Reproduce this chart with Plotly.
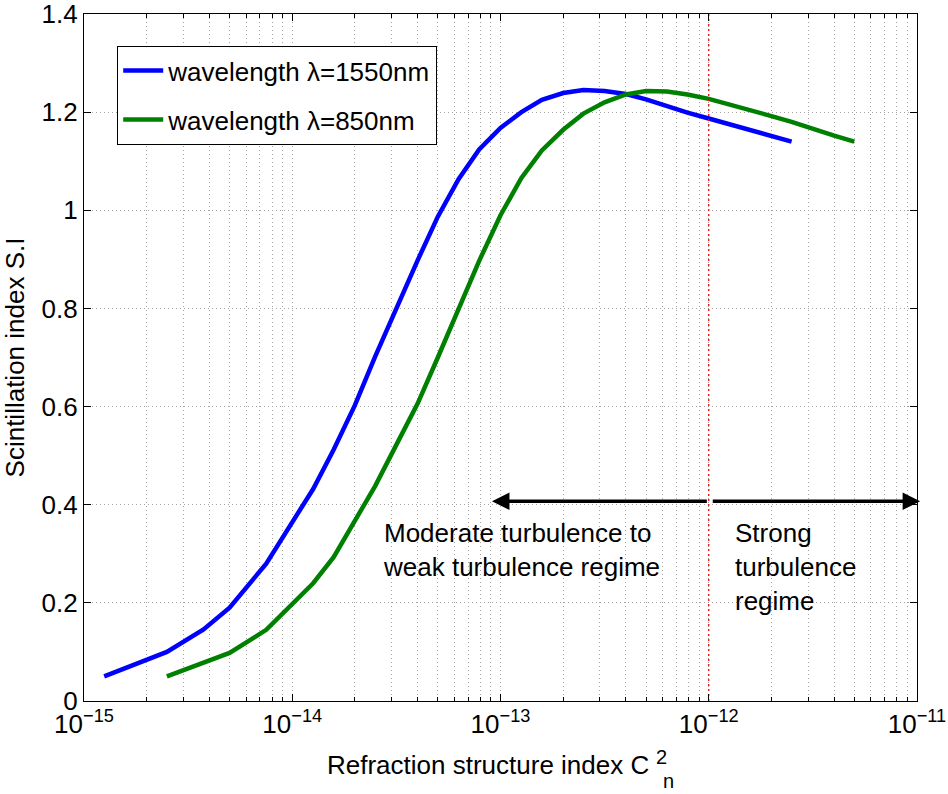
import numpy as np
import plotly.graph_objects as go

# Scintillation index vs. refractive-index structure parameter, two wavelengths
cn2_1550 = [1.25e-15, 2.5e-15, 3.75e-15, 5e-15, 7.5e-15, 1e-14, 1.26e-14, 1.58e-14,
            2e-14, 2.5e-14, 3.16e-14, 4e-14, 5e-14, 6.3e-14, 7.9e-14, 1e-13,
            1.26e-13, 1.58e-13, 2e-13, 2.5e-13, 3.16e-13, 4e-13, 5e-13, 6.3e-13,
            7.9e-13, 1e-12, 1.26e-12, 1.58e-12, 2e-12, 2.5e-12]
si_1550 = [0.050, 0.100, 0.146, 0.190, 0.280, 0.362, 0.432, 0.512,
           0.603, 0.702, 0.802, 0.898, 0.987, 1.064, 1.124, 1.168,
           1.200, 1.225, 1.239, 1.245, 1.243, 1.237, 1.226, 1.212,
           1.199, 1.187, 1.175, 1.162, 1.151, 1.140]

cn2_850 = [2.5e-15, 5e-15, 7.5e-15, 1e-14, 1.26e-14, 1.58e-14, 2e-14, 2.5e-14,
           3.16e-14, 4e-14, 5e-14, 6.3e-14, 7.9e-14, 1e-13, 1.26e-13, 1.58e-13,
           2e-13, 2.5e-13, 3.16e-13, 4e-13, 5e-13, 6.3e-13, 7.9e-13, 1e-12,
           1.26e-12, 1.58e-12, 2e-12, 2.5e-12, 3.16e-12, 4e-12, 5e-12]
si_850 = [0.050, 0.098, 0.145, 0.199, 0.240, 0.293, 0.366, 0.438,
          0.522, 0.606, 0.700, 0.797, 0.897, 0.990, 1.066, 1.122,
          1.164, 1.197, 1.220, 1.236, 1.243, 1.242, 1.236, 1.227,
          1.216, 1.204, 1.192, 1.180, 1.165, 1.152, 1.140]

# regime boundary and arrow level
boundary_cn2 = 1e-12
arrow_si = 0.407
arrow_left_tip = 9.1e-14
arrow_right_tip = 1.035e-11

x_major = [1e-15, 1e-14, 1e-13, 1e-12, 1e-11]
x_major_text = ["10<sup>\u221215</sup>", "10<sup>\u221214</sup>", "10<sup>\u221213</sup>",
                "10<sup>\u221212</sup>", "10<sup>\u221211</sup>"]
y_major = [0, 0.2, 0.4, 0.6, 0.8, 1.0, 1.2, 1.4]
y_major_text = ["0", "0.2", "0.4", "0.6", "0.8", "1", "1.2", "1.4"]
x_minor = [k * 10.0 ** d for d in range(-15, -11) for k in range(2, 10)]

FONT = "Liberation Sans, Arial, Helvetica, sans-serif"
GRID = "#a4a4a4"
GRID_DASH = "1px,3px"

fig = go.Figure()
fig.add_trace(go.Scatter(x=cn2_1550, y=si_1550, mode="lines",
                         line=dict(color="#0000ff", width=4.5),
                         name="wavelength \u03bb=1550nm", legendgroup="a"))
fig.add_trace(go.Scatter(x=cn2_850, y=si_850, mode="lines",
                         line=dict(color="#008000", width=4.5),
                         name="wavelength \u03bb=850nm", legendgroup="b"))
fig.add_trace(go.Scatter(x=[boundary_cn2, boundary_cn2], y=[y_major[0], y_major[-1]],
                         mode="lines", line=dict(color="#ff0000", width=1.3, dash="2px,3px"),
                         showlegend=False, hoverinfo="skip"))

axis_common = dict(
    showline=True, linecolor="black", linewidth=1.2, mirror="ticks",
    ticks="inside", ticklen=7, tickwidth=1.2, tickcolor="black",
    showgrid=True, gridcolor=GRID, griddash=GRID_DASH, gridwidth=1,
    zeroline=False, automargin=False, ticklabeloverflow="allow",
    tickfont=dict(family=FONT, size=26, color="black"),
)

fig.update_xaxes(type="log", range=[-15, -11], tickmode="array",
                 tickvals=x_major, ticktext=x_major_text,
                 minor=dict(tickmode="array", tickvals=x_minor, ticks="inside",
                            ticklen=4, tickwidth=1, tickcolor="black",
                            showgrid=True, gridcolor=GRID, griddash=GRID_DASH, gridwidth=1),
                 **axis_common)
fig.update_yaxes(range=[0, 1.4], tickmode="array", tickvals=y_major, ticktext=y_major_text,
                 title=dict(text="Scintillation index S.I", standoff=10,
                            font=dict(family=FONT, size=26, color="black")),
                 **axis_common)

arrow_style = dict(xref="x", yref="y", axref="x", ayref="y", showarrow=True,
                   arrowhead=2, arrowsize=1, arrowwidth=3.5, arrowcolor="black", text="")
annotations = [
    dict(x=np.log10(arrow_left_tip), y=arrow_si, ax=np.log10(boundary_cn2) - 0.002,
         ay=arrow_si, **arrow_style),
    dict(x=np.log10(arrow_right_tip), y=arrow_si, ax=np.log10(boundary_cn2) + 0.012,
         ay=arrow_si, **arrow_style),
    dict(x=-13.575, y=0.377, xref="x", yref="y", xanchor="left", yanchor="top",
         align="left", showarrow=False,
         text="Moderate turbulence to<br>weak turbulence regime",
         font=dict(family=FONT, size=26, color="black")),
    dict(x=-11.885, y=0.377, xref="x", yref="y", xanchor="left", yanchor="top",
         align="left", showarrow=False, text="Strong<br>turbulence<br>regime",
         font=dict(family=FONT, size=26, color="black")),
    # x-axis label with stacked sub/superscript
    dict(x=(325 - 84) / 833, y=(701 - 765) / 687, xref="paper", yref="paper",
         xanchor="left", yanchor="middle", showarrow=False,
         text="Refraction structure index C", font=dict(family=FONT, size=26, color="black")),
    dict(x=(654 - 84) / 833, y=(701 - 757) / 687, xref="paper", yref="paper",
         xanchor="left", yanchor="middle", showarrow=False,
         text="2", font=dict(family=FONT, size=20, color="black")),
    dict(x=(661 - 84) / 833, y=(701 - 781) / 687, xref="paper", yref="paper",
         xanchor="left", yanchor="middle", showarrow=False,
         text="n", font=dict(family=FONT, size=20, color="black")),
]

fig.update_layout(
    width=948, height=794,
    margin=dict(l=84, r=31, t=14, b=93),
    paper_bgcolor="white", plot_bgcolor="white",
    font=dict(family=FONT, size=26, color="black"),
    showlegend=True,
    legend=dict(x=(117 - 84) / 833, y=(701 - 46) / 687, xanchor="left", yanchor="top",
                bgcolor="white", bordercolor="black", borderwidth=1.2,
                font=dict(family=FONT, size=26, color="black"),
                tracegroupgap=12, itemwidth=40),
    annotations=annotations,
)

fig.write_html("out.html")
